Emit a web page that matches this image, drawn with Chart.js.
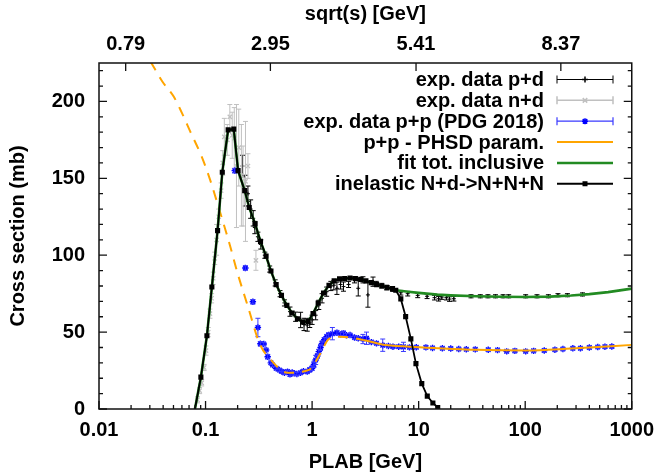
<!DOCTYPE html>
<html>
<head>
<meta charset="utf-8">
<title>N+d cross sections</title>
<script src="https://cdn.jsdelivr.net/npm/chart.js@4.4.1/dist/chart.umd.min.js"></script>
<style>
  html, body { margin: 0; padding: 0; background: #fff; }
  canvas { display: block; }
</style>
</head>
<body>
<canvas id="xsec-chart" width="663" height="476"></canvas>
<script>
// ---- values ----
const decadeTicks = [0.01, 0.1, 1, 10, 100, 1000];
const decadeLabels = ["0.01", "0.1", "1", "10", "100", "1000"];
const sqrtsTickPlab = [0.0178, 0.406, 9.45, 216];
const sqrtsTickLabels = ["0.79", "2.95", "5.41", "8.37"];
const yTicks = [0, 50, 100, 150, 200];

// exp. data p+d
const pdPlab = [0.222, 0.236, 0.25, 0.265, 0.28, 0.29, 0.31, 0.33, 0.36, 0.4, 0.45, 0.5, 0.55, 0.62, 0.7, 0.78, 0.84, 0.9, 0.95,
  1.0, 1.08, 1.156, 1.24, 1.37, 1.5, 1.6, 1.71, 1.85, 1.97, 2.2, 2.5, 2.71, 3.0, 3.34, 3.73, 4.0, 4.5, 5.0, 5.7, 6.8, 7.9, 9.8,
  12, 14.1, 15.4, 16.5, 18.2, 19.5, 21.4, 31, 37.9, 44.7, 52.6, 62, 70, 101, 129, 165, 203, 249, 345];
const pdSigma = [158, 142, 140, 130, 124, 118, 112, 107, 100, 91, 82, 75, 69, 63.3, 60, 57.9, 55, 54.6, 56,
  58, 61, 67.7, 72, 76.3, 80, 80.5, 78.5, 81, 79.6, 81, 84, 78.5, 84, 74.2, 82.8, 81.5, 80.2, 79, 78, 75.6, 75, 73.9,
  73.3, 72.4, 71.7, 72.8, 72.4, 71.5, 71.7, 73.3, 73.3, 73.3, 73.3, 73.3, 73.3, 73.3, 73.3, 73.3, 74, 74, 74.5];
const pdErr = [7, 10, 5, 6, 5, 4, 3, 3, 2, 2, 2, 2, 2, 3, 3, 5, 4, 4, 3,
  3, 3, 3, 3, 3, 3, 3, 4, 3, 3, 2, 2, 5, 2, 8, 3, 1.5, 1.5, 1.5, 1.5, 1.5, 1.5, 1.5,
  1.5, 1.5, 1.5, 1.5, 1.5, 1.5, 1.5, 1, 1, 1, 1, 1, 1, 1, 1, 1, 1, 1, 1];

// exp. data n+d
const ndPlab = [0.084, 0.088, 0.092, 0.097, 0.101, 0.106, 0.11, 0.114, 0.118, 0.122, 0.127, 0.133, 0.14, 0.145, 0.15,
  0.16, 0.169, 0.178, 0.186, 0.195, 0.205, 0.217, 0.225, 0.237, 0.25, 0.297];
const ndSigma = [6, 12, 17, 27, 38, 50, 62, 72, 85, 98, 110, 125, 142, 160, 177,
  175, 190, 178, 176, 158, 170, 152, 145, 148, 158, 96.7];
const ndErr = [2, 2, 2, 2, 3, 3, 3, 3, 4, 4, 10, 5, 5, 8, 12,
  10, 8, 15, 20, 40, 25, 33, 26, 39, 8, 6.5];

// exp. data p+p (PDG 2018)
const ppPlab = [0.188, 0.2365, 0.278, 0.31, 0.327, 0.352, 0.37, 0.383, 0.41, 0.426, 0.46, 0.492, 0.52, 0.55, 0.588, 0.62,
  0.65, 0.678, 0.72, 0.78, 0.83, 0.9, 0.95, 1.0, 1.04, 1.08, 1.12, 1.156, 1.2, 1.24, 1.3, 1.37, 1.43, 1.55, 1.71, 1.85,
  1.97, 2.1, 2.27, 2.5, 2.71, 3.0, 3.24, 3.6, 4.02, 4.6, 5.2, 5.74, 6.5, 7.2, 8.2, 9.5, 11.7, 13.5, 16.7, 20, 23.8, 28,
  34, 45, 55, 67, 80, 101, 120, 151, 190, 226, 280, 330, 400, 480, 560, 650];
const ppSigma = [155, 91.7, 69.7, 53, 42.4, 42.3, 38.4, 34, 30, 28.6, 26.5, 25.4, 24.4, 23.5, 24.3, 22.5,
  23.8, 23.2, 22.8, 23.6, 24.6, 24.3, 25.5, 26.5, 29, 31.9, 34.5, 37.3, 40, 42.7, 45, 47, 48.1, 49, 49.6, 48.5,
  49.2, 48, 48.1, 46.5, 46, 45.5, 46, 43.5, 42.7, 41.5, 41, 40.5, 40.5, 40.4, 40.1, 40.2, 40.1, 39.7, 39.5, 39.3, 39, 38.9,
  38.8, 38.5, 38.3, 37.5, 37.8, 37.5, 37.8, 38, 38.5, 39, 39.5, 39.5, 40, 40.3, 40.5, 40.6];
const ppErr = [1.5, 1.5, 1.5, 6, 1.5, 1, 1, 1.5, 1, 1, 1, 1, 1, 1, 1, 1,
  1, 1, 1, 1, 1, 1, 1.5, 1.5, 2, 3, 1.5, 1.5, 2, 1.5, 1.5, 1.5, 1.5, 4, 1.5, 1.5,
  1.5, 1, 1, 1, 1, 3, 4, 1, 1, 4, 1, 1, 1, 3, 1, 1, 1, 1, 1, 1, 1, 1,
  1, 1, 1, 1, 1, 1, 1, 1, 1, 1, 1, 1, 1, 1, 1, 1];

// p+p - PHSD param.
const phsdPlab = [0.025, 0.0316, 0.0393, 0.0504, 0.0601, 0.0719, 0.0922, 0.1104, 0.132, 0.157, 0.169, 0.199, 0.25, 0.321,
  0.411, 0.587, 0.933, 1.2, 1.43, 1.83, 3.02, 4.52, 8.2, 15.4, 34, 101, 270, 1000];
const phsdSigma = [236, 224, 213, 203, 192.4, 180.4, 164, 149, 131.6, 114.3, 106.7, 88.7, 66.6, 42.7,
  31.9, 23.6, 25.4, 36.2, 45.5, 47, 44.9, 42, 40.5, 39.5, 38.5, 38, 39.3, 41.7];

// fit tot. inclusive
const fitPlab = [0.0795, 0.0904, 0.103, 0.1146, 0.1297, 0.1436, 0.163, 0.184, 0.202, 0.233, 0.257, 0.292, 0.328, 0.37,
  0.411, 0.46, 0.516, 0.58, 0.649, 0.728, 0.817, 0.916, 1.02, 1.14, 1.28, 1.44, 1.61, 1.81, 2.02, 2.27, 2.55, 2.86, 3.2,
  3.59, 4.03, 4.52, 5.06, 5.68, 6.1, 8, 10, 15, 20, 35, 60, 100, 170, 270, 400, 600, 1000];
const fitSigma = [0, 20.7, 47.6, 79.3, 116, 154, 181.5, 182, 155, 142, 131, 120.4, 109, 99.4,
  89.7, 80.9, 73.9, 67.4, 62.4, 58.7, 56.5, 57, 62, 68.9, 75.4, 80.4, 83.3, 84.6, 84.8, 85.2, 84.8, 84.3, 83.3,
  82.2, 80.9, 80, 78.9, 78.3, 77.2, 76.2, 75.5, 74.4, 73.9, 73.3, 73, 72.8, 73.1, 73.8, 74.7, 76, 78.3];

// inelastic N+d->N+N+N
const inelPlab = [0.0795, 0.0904, 0.103, 0.1146, 0.1297, 0.1436, 0.163, 0.184, 0.202, 0.233, 0.257, 0.292, 0.328, 0.37,
  0.411, 0.46, 0.516, 0.58, 0.649, 0.728, 0.817, 0.916, 1.02, 1.14, 1.28, 1.44, 1.61, 1.81, 2.02, 2.27, 2.55, 2.86, 3.2,
  3.59, 4.03, 4.52, 5.06, 5.68, 6.1, 6.8, 7.55, 8.45, 9.43, 10.7, 12.05, 13.6, 15.1];
const inelSigma = [0, 20.7, 47.6, 79.3, 116, 154, 181.5, 182, 155, 142, 131, 120.4, 109, 99.4,
  89.7, 80.9, 73.9, 67.4, 62.4, 58.7, 56.5, 57, 62, 68.9, 75.4, 80.4, 83.3, 84.6, 84.8, 85.2, 84.8, 84.3, 83.3,
  82.2, 80.9, 80, 78.9, 78.3, 77.2, 71.6, 60.1, 45.6, 29.5, 16.5, 8.4, 3.9, 1];

const FONT = { family: "'Liberation Sans', Arial, sans-serif", size: 20, weight: "bold" };
const toPoints = (xs, ys) => xs.map((x, i) => ({ x: x, y: ys[i] }));

// simple marker shapes, used for the legend samples
function drawMarker(ctx, style, x, y, r) {
  if (style === "rect") {
    ctx.fillRect(x - r, y - r, 2 * r, 2 * r);
    return;
  }
  ctx.beginPath();
  if (style === "cross" || style === "star") {
    ctx.moveTo(x - r, y); ctx.lineTo(x + r, y);
    ctx.moveTo(x, y - r); ctx.lineTo(x, y + r);
  }
  if (style === "crossRot" || style === "star") {
    const d = r * 0.75;
    ctx.moveTo(x - d, y - d); ctx.lineTo(x + d, y + d);
    ctx.moveTo(x - d, y + d); ctx.lineTo(x + d, y - d);
  }
  ctx.stroke();
}

// vertical error bars with small caps, drawn right after their dataset
const errorBarPlugin = {
  id: "errorBars",
  afterDatasetDraw(chart, args) {
    const ds = chart.data.datasets[args.index];
    if (!ds.errors) return;
    const { ctx, chartArea } = chart;
    const xs = chart.scales.x;
    const ys = chart.scales.y;
    ctx.save();
    ctx.beginPath();
    ctx.rect(chartArea.left, chartArea.top, chartArea.right - chartArea.left, chartArea.bottom - chartArea.top);
    ctx.clip();
    ctx.strokeStyle = ds.errorColor;
    ctx.lineWidth = 1;
    ds.data.forEach((pt, i) => {
      const e = ds.errors[i];
      const px = xs.getPixelForValue(pt.x);
      const top = ys.getPixelForValue(pt.y + e);
      const bot = ys.getPixelForValue(pt.y - e);
      ctx.beginPath();
      ctx.moveTo(px, top); ctx.lineTo(px, bot);
      ctx.moveTo(px - 2.5, top); ctx.lineTo(px + 2.5, top);
      ctx.moveTo(px - 2.5, bot); ctx.lineTo(px + 2.5, bot);
      ctx.stroke();
    });
    ctx.restore();
  },
};

// gnuplot-like border with inward ticks
const framePlugin = {
  id: "frame",
  afterDatasetsDraw(chart) {
    const { ctx, chartArea: a } = chart;
    const xs = chart.scales.x;
    const x2 = chart.scales.x2;
    const ys = chart.scales.y;
    ctx.save();
    ctx.strokeStyle = "#111";
    ctx.lineWidth = 1.3;
    ctx.beginPath();
    // bottom decades and minor ticks
    decadeTicks.forEach((d, i) => {
      const px = xs.getPixelForValue(d);
      ctx.moveTo(px, a.bottom); ctx.lineTo(px, a.bottom - 8);
      if (i < decadeTicks.length - 1) {
        for (let k = 2; k <= 9; k++) {
          const mx = xs.getPixelForValue(d * k);
          ctx.moveTo(mx, a.bottom); ctx.lineTo(mx, a.bottom - 4);
        }
      }
    });
    // top sqrt(s) ticks
    sqrtsTickPlab.forEach((v) => {
      const px = x2.getPixelForValue(v);
      ctx.moveTo(px, a.top); ctx.lineTo(px, a.top + 8);
    });
    // left and right y ticks
    for (let v = 0; v <= 220; v += 10) {
      const py = ys.getPixelForValue(v);
      const len = v % 50 === 0 ? 8 : 4;
      ctx.moveTo(a.left, py); ctx.lineTo(a.left + len, py);
      ctx.moveTo(a.right, py); ctx.lineTo(a.right - len, py);
    }
    ctx.stroke();
    ctx.lineWidth = 1.5;
    ctx.strokeRect(a.left, a.top, a.right - a.left, a.bottom - a.top);
    ctx.restore();
  },
};

// key in the upper right, text right-aligned with the sample to its right
const keyPlugin = {
  id: "key",
  afterDraw(chart) {
    const ctx = chart.ctx;
    const items = [
      { text: "exp. data p+d", color: "#000", line: 1, marker: "cross", caps: true },
      { text: "exp. data n+d", color: "#c0c0c0", line: 1.5, marker: "crossRot", caps: true },
      { text: "exp. data p+p (PDG 2018)", color: "#3a3aff", line: 1.2, marker: "star", markerColor: "#0000ff", caps: true },
      { text: "p+p - PHSD param.", color: "#ffa500", line: 2 },
      { text: "fit tot. inclusive", color: "#228b22", line: 2.5 },
      { text: "inelastic N+d->N+N+N", color: "#000", line: 2, marker: "rect" },
    ];
    ctx.save();
    ctx.font = "bold 20px 'Liberation Sans', Arial, sans-serif";
    ctx.textAlign = "right";
    ctx.textBaseline = "middle";
    items.forEach((it, i) => {
      const y = 79.5 + i * 20.85;
      ctx.fillStyle = "#000";
      ctx.fillText(it.text, 544, y + 1);
      ctx.strokeStyle = it.color;
      ctx.lineWidth = it.line;
      ctx.beginPath();
      ctx.moveTo(557, y); ctx.lineTo(613, y);
      if (it.caps) {
        ctx.moveTo(557, y - 4); ctx.lineTo(557, y + 4);
        ctx.moveTo(613, y - 4); ctx.lineTo(613, y + 4);
      }
      ctx.stroke();
      if (it.marker) {
        ctx.strokeStyle = it.markerColor || it.color;
        ctx.fillStyle = it.markerColor || it.color;
        ctx.lineWidth = 1.5;
        drawMarker(ctx, it.marker, 585, y, it.marker === "rect" ? 2.5 : 3);
      }
    });
    ctx.restore();
  },
};

const ctx = document.getElementById("xsec-chart").getContext("2d");

new Chart(ctx, {
  type: "line",
  data: {
    datasets: [
      {
        label: "exp. data p+d",
        data: toPoints(pdPlab, pdSigma),
        errors: pdErr,
        errorColor: "#000",
        showLine: false,
        pointStyle: "cross",
        pointRadius: 2,
        pointBorderWidth: 1,
        borderColor: "#000",
        backgroundColor: "#000",
        order: 6,
      },
      {
        label: "exp. data n+d",
        data: toPoints(ndPlab, ndSigma),
        errors: ndErr,
        errorColor: "#c0c0c0",
        showLine: false,
        pointStyle: "crossRot",
        pointRadius: 3,
        pointBorderWidth: 1.3,
        borderColor: "#c0c0c0",
        backgroundColor: "#c0c0c0",
        order: 5,
      },
      {
        label: "exp. data p+p (PDG 2018)",
        data: toPoints(ppPlab, ppSigma),
        errors: ppErr,
        errorColor: "#3a3aff",
        showLine: false,
        pointStyle: "star",
        pointRadius: 3.2,
        pointBorderWidth: 1.4,
        borderColor: "#0000ff",
        backgroundColor: "#0000ff",
        order: 4,
      },
      {
        label: "p+p - PHSD param.",
        data: toPoints(phsdPlab, phsdSigma),
        borderColor: "#ffa500",
        borderWidth: 2,
        pointRadius: 0,
        cubicInterpolationMode: "monotone",
        segment: {
          borderDash: (c) => (c.p0.parsed.x < 3 ? [10, 8] : undefined),
        },
        order: 3,
      },
      {
        label: "fit tot. inclusive",
        data: toPoints(fitPlab, fitSigma),
        borderColor: "#228b22",
        borderWidth: 2.6,
        pointRadius: 0,
        tension: 0,
        order: 2,
      },
      {
        label: "inelastic N+d->N+N+N",
        data: toPoints(inelPlab, inelSigma),
        borderColor: "#000",
        backgroundColor: "#000",
        borderWidth: 1.8,
        pointStyle: "rect",
        pointRadius: (c) => (c.dataIndex === 0 ? 0 : 3.6),
        pointBorderWidth: 0,
        tension: 0,
        order: 1,
      },
    ],
  },
  options: {
    responsive: false,
    animation: false,
    devicePixelRatio: 1,
    layout: { padding: { left: 0, right: 25, top: 0, bottom: 0 } },
    plugins: {
      legend: { display: false },
      tooltip: { enabled: false },
    },
    scales: {
      x: {
        type: "logarithmic",
        position: "bottom",
        min: 0.01,
        max: 1000,
        afterBuildTicks: (scale) => {
          scale.ticks = decadeTicks.map((v) => ({ value: v, major: true }));
        },
        afterFit: (scale) => {
          scale.height = 67;
        },
        grid: { display: false, drawTicks: false },
        border: { display: false },
        ticks: {
          autoSkip: false,
          maxRotation: 0,
          padding: 9,
          color: "#000",
          font: FONT,
          callback: (value, index) => decadeLabels[index],
        },
        title: {
          display: true,
          text: "PLAB [GeV]",
          color: "#000",
          font: FONT,
          padding: { top: 0, bottom: 2 },
        },
      },
      x2: {
        type: "logarithmic",
        position: "top",
        min: 0.01,
        max: 1000,
        afterBuildTicks: (scale) => {
          scale.ticks = sqrtsTickPlab.map((v) => ({ value: v, major: true }));
        },
        afterFit: (scale) => {
          scale.height = 63;
        },
        grid: { display: false, drawTicks: false },
        border: { display: false },
        ticks: {
          autoSkip: false,
          maxRotation: 0,
          padding: 7,
          color: "#000",
          font: FONT,
          callback: (value, index) => sqrtsTickLabels[index],
        },
        title: {
          display: true,
          text: "sqrt(s) [GeV]",
          color: "#000",
          font: FONT,
          padding: { top: 2, bottom: 0 },
        },
      },
      y: {
        type: "linear",
        position: "left",
        min: 0,
        max: 225,
        afterBuildTicks: (scale) => {
          scale.ticks = yTicks.map((v) => ({ value: v }));
        },
        afterFit: (scale) => {
          scale.width = 99;
        },
        grid: { display: false, drawTicks: false },
        border: { display: false },
        ticks: {
          padding: 14,
          color: "#000",
          font: FONT,
        },
        title: {
          display: true,
          text: "Cross section (mb)",
          color: "#000",
          font: FONT,
          padding: { top: 6, bottom: 0 },
        },
      },
    },
  },
  plugins: [errorBarPlugin, framePlugin, keyPlugin],
});
</script>
</body>
</html>
